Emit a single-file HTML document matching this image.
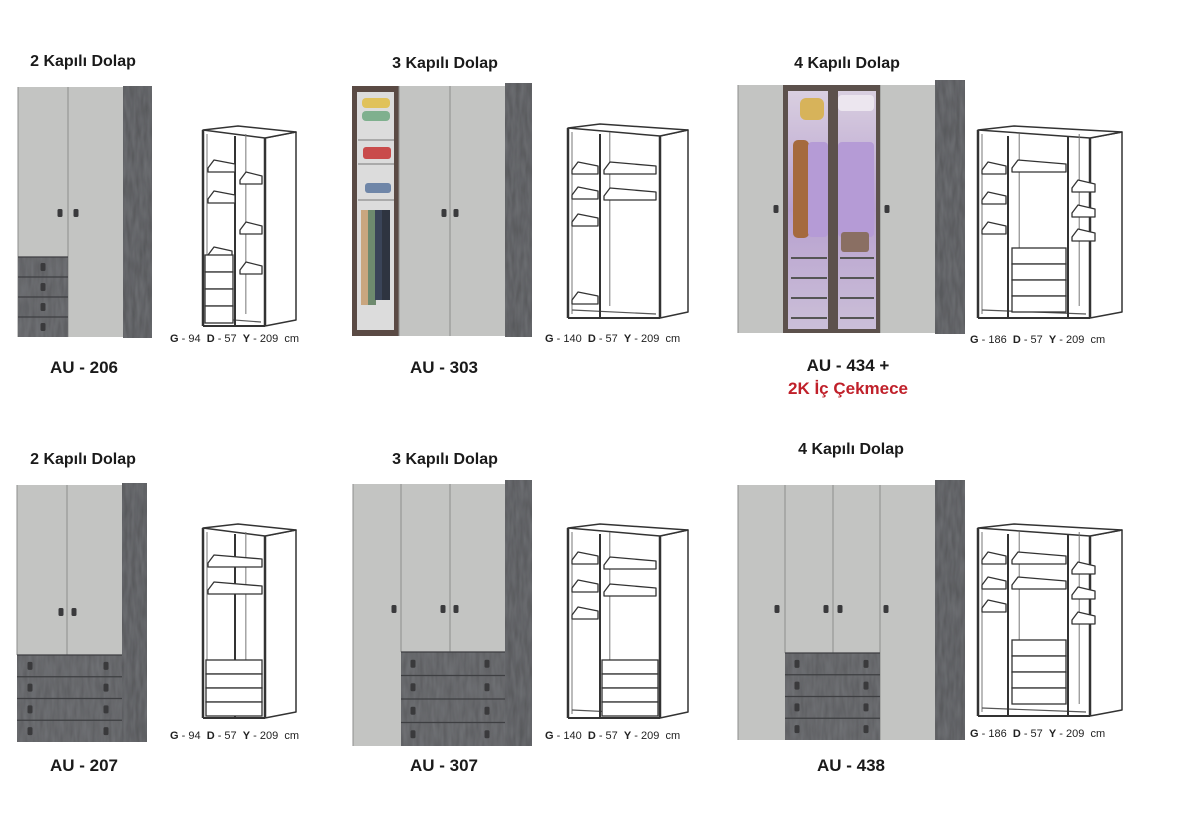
<!DOCTYPE html>
<html><head><meta charset="utf-8">
<style>
html,body{margin:0;padding:0;background:#fff;}
body{width:1200px;height:820px;position:relative;overflow:hidden;font-family:"Liberation Sans",sans-serif;}
.t{position:absolute;font-weight:bold;color:#1a1a1a;transform:translateX(-50%);white-space:nowrap;}
.h{font-size:16px;}
.c{font-size:17px;}
.d{position:absolute;font-size:11px;color:#222;white-space:nowrap;}
.d b{font-weight:bold;}
svg{position:absolute;left:0;top:0;}
</style></head><body>
<svg id="s" width="1200" height="820" xmlns="http://www.w3.org/2000/svg">
<defs>
<filter id="tex" x="0" y="0" width="100%" height="100%">
<feTurbulence type="fractalNoise" baseFrequency="0.25 0.05" numOctaves="2" seed="3"/>
<feColorMatrix type="matrix" values="0 0 0 0 0.25  0 0 0 0 0.26  0 0 0 0 0.28  0.5 0 0 0 -0.1"/>
<feComposite in2="SourceGraphic" operator="in"/>
<feBlend in2="SourceGraphic" mode="normal"/>
</filter>
<linearGradient id="pur" x1="0" y1="0" x2="0" y2="1">
<stop offset="0" stop-color="#d9cfe0"/><stop offset="0.5" stop-color="#b7a0cf"/><stop offset="1" stop-color="#cbbfd8"/>
</linearGradient>
</defs>
<g id="g"></g>
</svg>

<div class="t h" style="left:83px;top:53px">2 Kapılı Dolap</div>
<div class="t h" style="left:445px;top:55px">3 Kapılı Dolap</div>
<div class="t h" style="left:847px;top:55px">4 Kapılı Dolap</div>
<div class="t h" style="left:83px;top:451px">2 Kapılı Dolap</div>
<div class="t h" style="left:445px;top:451px">3 Kapılı Dolap</div>
<div class="t h" style="left:851px;top:441px">4 Kapılı Dolap</div>

<div class="t c" style="left:84px;top:358px">AU - 206</div>
<div class="t c" style="left:444px;top:358px">AU - 303</div>
<div class="t c" style="left:848px;top:356px">AU - 434 +</div>
<div class="t c" style="left:848px;top:379px;color:#c0202a">2K İç Çekmece</div>
<div class="t c" style="left:84px;top:756px">AU - 207</div>
<div class="t c" style="left:444px;top:756px">AU - 307</div>
<div class="t c" style="left:851px;top:756px">AU - 438</div>

<div class="d" style="left:170px;top:333px"><b>G</b> - 94 &nbsp;<b>D</b> - 57 &nbsp;<b>Y</b> - 209 &nbsp;cm</div>
<div class="d" style="left:545px;top:333px"><b>G</b> - 140 &nbsp;<b>D</b> - 57 &nbsp;<b>Y</b> - 209 &nbsp;cm</div>
<div class="d" style="left:970px;top:334px"><b>G</b> - 186 &nbsp;<b>D</b> - 57 &nbsp;<b>Y</b> - 209 &nbsp;cm</div>
<div class="d" style="left:170px;top:730px"><b>G</b> - 94 &nbsp;<b>D</b> - 57 &nbsp;<b>Y</b> - 209 &nbsp;cm</div>
<div class="d" style="left:545px;top:730px"><b>G</b> - 140 &nbsp;<b>D</b> - 57 &nbsp;<b>Y</b> - 209 &nbsp;cm</div>
<div class="d" style="left:970px;top:728px"><b>G</b> - 186 &nbsp;<b>D</b> - 57 &nbsp;<b>Y</b> - 209 &nbsp;cm</div>

<script>
var g=document.getElementById('g'),NS='http://www.w3.org/2000/svg';
function el(n,a){var e=document.createElementNS(NS,n);for(var k in a)e.setAttribute(k,a[k]);g.appendChild(e);return e;}
function rect(x,y,w,h,f,s,sw,extra){var a={x:x,y:y,width:w,height:h,fill:f||'none'};if(s){a.stroke=s;a['stroke-width']=sw||1;}if(extra)for(var k in extra)a[k]=extra[k];return el('rect',a);}
function line(x1,y1,x2,y2,s,w){return el('line',{x1:x1,y1:y1,x2:x2,y2:y2,stroke:s||'#333','stroke-width':w||1.5});}
function poly(p,f,s,w){return el('polygon',{points:p,fill:f||'none',stroke:s||'#333','stroke-width':w||1.5,'stroke-linejoin':'round'});}
var DOOR='#c3c4c2',DR='#5f6063';
function handle(x,y){rect(x-2.5,y-4,5,8,'#3a3a3c',null,0,{rx:1.5});}
function side(x,y,w,h){rect(x,y,w,h,'#595a5d',null,0,{filter:'url(#tex)'});}
function drawers(x,y,w,h,n,hx){var dh=h/n;for(var i=0;i<n;i++){rect(x,y+i*dh,w,dh,DR,null,0,{filter:'url(#tex)'});line(x,y+i*dh,x+w,y+i*dh,'#3e3f42',1.2);for(var j=0;j<hx.length;j++)handle(hx[j],y+i*dh+dh/2);}}
function door(x,y,w,h){rect(x,y,w,h,DOOR);line(x,y,x,y+h,'#8d8e8c',1);}

side(123,86,29,252);door(18,87,50,250);door(68,87,55,250);drawers(18,257,50,80,4,[43]);handle(60,213);handle(76,213);
side(505,83,27,254);
rect(352,86,47,250,'#5a4a44');rect(357,92,37,238,'#dcdcdc');
[140,164,200].forEach(function(y){line(358,y,394,y,'#aaa',2);});
rect(362,98,28,10,'#e0c25a',null,0,{rx:4});rect(362,111,28,10,'#7fb08e',null,0,{rx:4});
rect(363,147,28,12,'#c94b4b',null,0,{rx:3});rect(365,183,26,10,'#6f86a8',null,0,{rx:3});
rect(361,210,8,95,'#c9a67f');rect(368,210,8,95,'#6e8a6e');rect(375,210,8,90,'#3a4458');rect(382,210,8,90,'#2e3440');
door(399,86,51,250);door(450,86,55,250);handle(444,213);handle(456,213);
side(935,80,30,254);door(738,85,45,248);door(880,85,55,248);
rect(783,85,50,248,'#5c514c');rect(833,85,47,248,'#5c514c');
rect(788,91,40,238,'url(#pur)');rect(838,91,38,238,'url(#pur)');
rect(800,98,24,22,'#d7b35a',null,0,{rx:6});rect(838,95,36,16,'#ece6ef',null,0,{rx:4});
rect(793,140,16,98,'#a56a3e',null,0,{rx:5});rect(808,142,20,95,'#b59bd6',null,0,{rx:4});rect(838,142,36,95,'#b59bd6',null,0,{rx:4});
rect(841,232,28,20,'#8a6f63',null,0,{rx:3});
[258,278,298,318].forEach(function(y){line(791,y,827,y,'#555',2);line(840,y,874,y,'#555',2);});
handle(776,209);handle(887,209);
side(122,483,25,259);door(17,485,50,170);door(67,485,55,170);drawers(17,655,105,87,4,[30,106]);handle(61,612);handle(74,612);
side(505,480,27,266);door(353,484,48,262);door(401,484,49,168);door(450,484,55,168);drawers(401,652,104,94,4,[413,487]);
handle(394,609);handle(443,609);handle(456,609);
side(935,480,30,260);door(738,485,47,255);door(785,485,48,168);door(833,485,47,168);door(880,485,55,255);
drawers(785,653,95,87,4,[797,866]);handle(777,609);handle(826,609);handle(840,609);handle(886,609);

function shelf(x1,x2,y,dy){poly(x1+','+y+' '+(x1+6)+','+(y-dy)+' '+(x2)+','+(y-dy+4)+' '+x2+','+(y+4)+' '+x1+','+(y+4),'#fff','#333',1.3);}
function cab(x,y,w,h,dx,dy,divs,shelves,drw){
  poly((x+w)+','+(y+8)+' '+(x+w+dx)+','+(y+8-dy)+' '+(x+w+dx)+','+(y+h-dy)+' '+(x+w)+','+(y+h),'#fff','#333',1.5);
  poly(x+','+y+' '+(x+dx+4)+','+(y-dy+2)+' '+(x+w+dx)+','+(y+8-dy)+' '+(x+w)+','+(y+8),'#fff','#333',1.5);
  line(x,y,x,y+h,'#333',2.5);line(x+4,y+4,x+4,y+h-4,'#777',1);
  line(x+w,y+8,x+w,y+h,'#333',2.5);
  line(x,y+h,x+w,y+h,'#333',2);line(x+4,y+h-8,x+w-4,y+h-4,'#555',1.2);
  divs.forEach(function(d){line(d,y+6,d,y+h,'#333',2);line(d+dx*0.35,y+4,d+dx*0.35,y+h-12,'#777',1);});
  shelves.forEach(function(s){shelf(s[0],s[1],s[2],8);});
  if(drw){for(var i=0;i<drw.n;i++){var yy=drw.y+i*drw.h;rect(drw.x,yy,drw.w,drw.h,'#fff','#333',1.3);}}
}
cab(203,130,62,196,31,6,[235],[[208,235,168],[208,235,199],[240,262,180],[240,262,230],[240,262,270],[208,232,255]],{x:205,y:255,w:28,h:17,n:4});
cab(568,128,92,190,28,6,[600],[[572,598,170],[572,598,195],[572,598,222],[604,656,170],[604,656,196],[572,598,300]],null);
cab(978,130,112,188,32,6,[1008,1068],[[982,1006,170],[982,1006,200],[982,1006,230],[1012,1066,168],[1072,1095,188],[1072,1095,213],[1072,1095,237]],{x:1012,y:248,w:54,h:16,n:4});
cab(203,528,62,190,31,6,[235],[[208,262,563],[208,262,590]],{x:206,y:660,w:56,h:14,n:4});
cab(568,528,92,190,28,6,[600],[[572,598,560],[572,598,588],[572,598,615],[604,656,565],[604,656,592]],{x:602,y:660,w:56,h:14,n:4});
cab(978,528,112,188,32,6,[1008,1068],[[982,1006,560],[982,1006,585],[982,1006,608],[1012,1066,560],[1012,1066,585],[1072,1095,570],[1072,1095,595],[1072,1095,620]],{x:1012,y:640,w:54,h:16,n:4});
</script>
</body></html>
